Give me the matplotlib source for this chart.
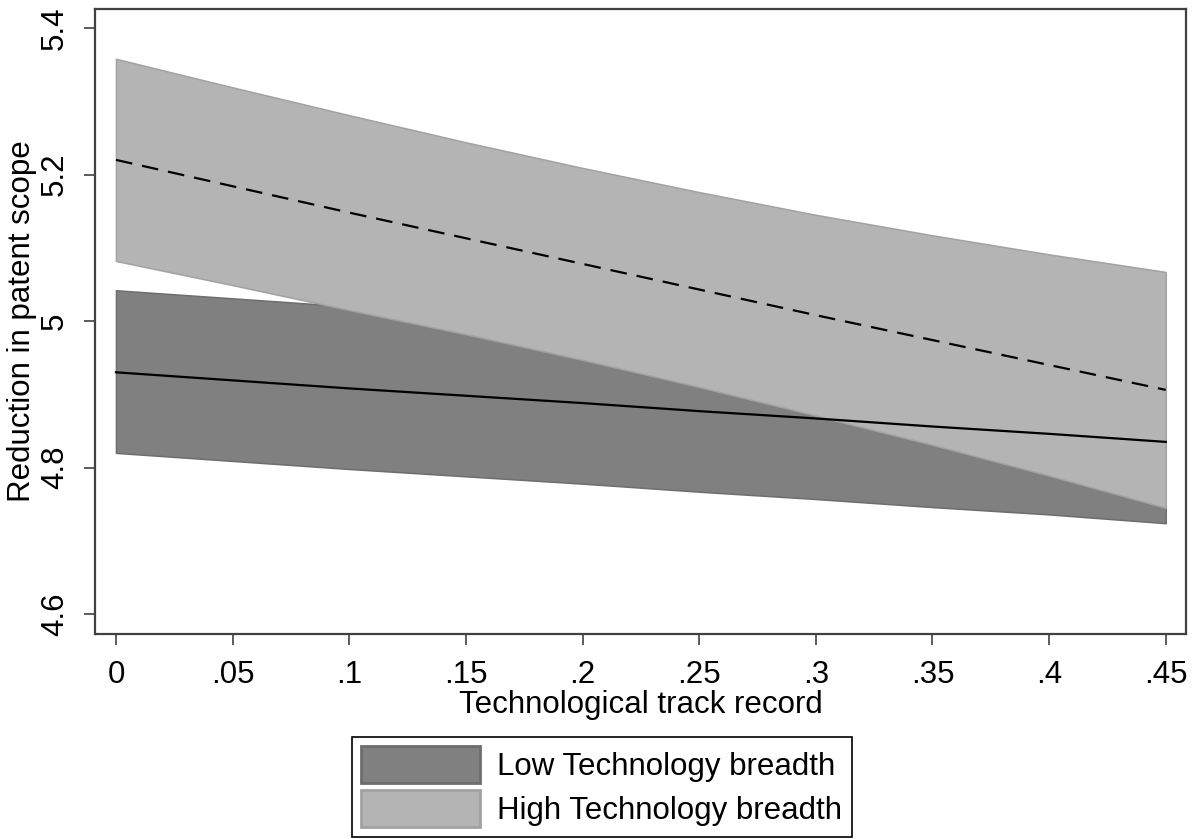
import matplotlib
matplotlib.use("Agg")
import matplotlib.pyplot as plt
from matplotlib.patches import Patch

plt.rcParams["font.family"] = ["Liberation Sans", "DejaVu Sans"]

# predictive margins
track_record = [0, .05, .1, .15, .2, .25, .3, .35, .4, .45]

low_mean = [4.930, 4.919, 4.908, 4.898, 4.888, 4.877, 4.867, 4.856, 4.846, 4.835]
low_lo = [4.820, 4.809, 4.798, 4.788, 4.778, 4.767, 4.757, 4.746, 4.736, 4.724]
low_hi = [5.042, 5.031, 5.020, 5.010, 5.000, 4.989, 4.979, 4.968, 4.958, 4.947]

high_mean = [5.220, 5.184, 5.148, 5.113, 5.078, 5.043, 5.008, 4.974, 4.940, 4.906]
high_lo = [5.082, 5.049, 5.015, 4.982, 4.947, 4.910, 4.871, 4.831, 4.789, 4.745]
high_hi = [5.358, 5.319, 5.281, 5.244, 5.209, 5.176, 5.145, 5.117, 5.091, 5.067]

x_ticks = [0, .05, .1, .15, .2, .25, .3, .35, .4, .45]
x_ticklabels = ["0", ".05", ".1", ".15", ".2", ".25", ".3", ".35", ".4", ".45"]
y_ticks = [4.6, 4.8, 5.0, 5.2, 5.4]
y_ticklabels = ["4.6", "4.8", "5", "5.2", "5.4"]

labels = ["Low Technology breadth", "High Technology breadth"]
LOW_FILL, LOW_EDGE = "#808080", "#6e6e6e"
HIGH_FILL, HIGH_EDGE = "#b4b4b4", "#a2a2a2"
FS = 22.5

fig = plt.figure(figsize=(11.99, 8.39), dpi=100)
ax = fig.add_axes([0.0792, 0.2443, 0.9098, 0.745])

ax.fill_between(track_record, low_lo, low_hi, facecolor=LOW_FILL,
                edgecolor=LOW_EDGE, lw=1.1, zorder=1)
ax.fill_between(track_record, high_lo, high_hi, facecolor=HIGH_FILL,
                edgecolor=HIGH_EDGE, lw=1.1, zorder=2)
ax.plot(track_record, low_mean, color="black", lw=1.6, zorder=3)
ax.plot(track_record, high_mean, color="black", lw=1.6, zorder=3,
        dashes=(7.5, 4.5))

ax.set_xlim(-0.009, 0.4586)
ax.set_ylim(4.5727, 5.426)
ax.set_xticks(x_ticks, x_ticklabels, fontsize=FS)
ax.set_yticks(y_ticks, y_ticklabels, fontsize=FS, rotation=90, va="center")
ax.tick_params(direction="out", length=8, width=1.2, color="#404040")
ax.tick_params(axis="x", pad=11)
ax.tick_params(axis="y", pad=10)
for s in ax.spines.values():
    s.set_color("#404040")
    s.set_linewidth(1.6)

ax.set_xlabel("Technological track record", fontsize=FS, labelpad=0)
ax.set_ylabel("Reduction in patent scope", fontsize=FS, labelpad=2)

handles = [Patch(facecolor=LOW_FILL, edgecolor=LOW_EDGE, lw=2),
           Patch(facecolor=HIGH_FILL, edgecolor=HIGH_EDGE, lw=2)]
leg = fig.legend(handles, labels, loc="upper center", ncol=1,
                 bbox_to_anchor=(0.502, 1 - 737 / 839), borderaxespad=0,
                 fontsize=FS, handlelength=3.8, handleheight=1.45,
                 handletextpad=0.55, labelspacing=0.22, borderpad=0.3,
                 fancybox=False, edgecolor="black", framealpha=1)
leg.get_frame().set_linewidth(1.2)

fig.savefig("out.png", dpi=100)
